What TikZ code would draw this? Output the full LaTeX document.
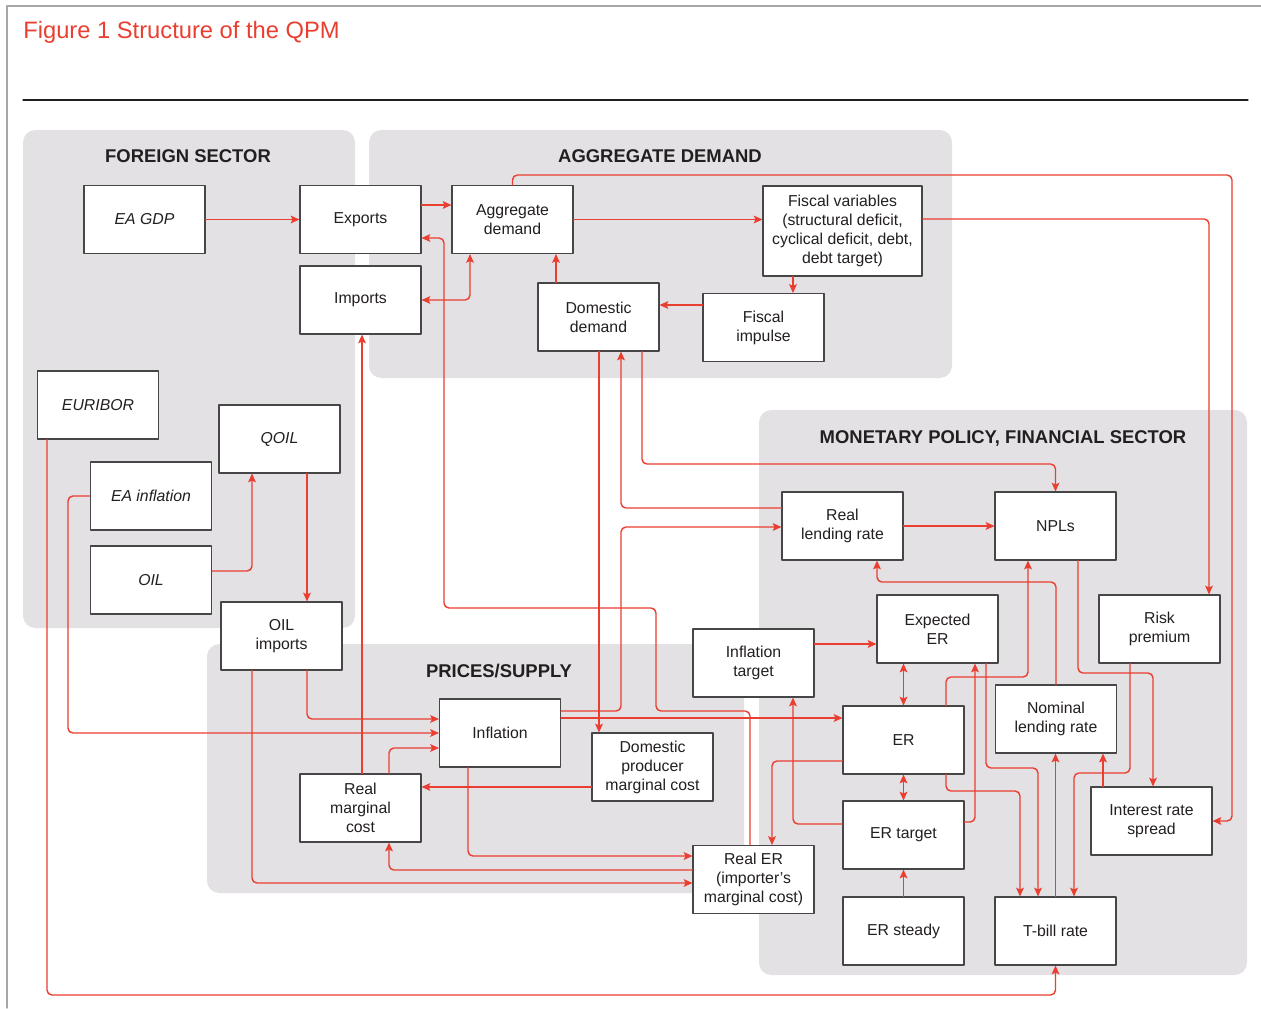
\documentclass[tikz,border=0pt]{standalone}
\usepackage{fontspec}
\setmainfont{Liberation Sans}
\usetikzlibrary{arrows.meta}
\definecolor{qred}{RGB}{234,62,48}
\definecolor{panelgray}{RGB}{227,225,228}
\definecolor{boxline}{RGB}{70,70,70}
\definecolor{inkblack}{RGB}{35,31,32}

\begin{document}
\begin{tikzpicture}[x=0.02cm, y=-0.02cm, line cap=round, line join=round,
    >={Stealth[length=5pt,width=4.4pt,inset=1pt]},
    panel/.style={fill=panelgray, rounded corners=7pt},
    sector/.style={font=\fontsize{10.5}{12}\selectfont\bfseries, text=inkblack},
    var/.style={draw=boxline, line width=0.6pt, fill=white, text=inkblack,
      minimum width=2.42cm, minimum height=1.36cm, inner sep=1pt, align=center,
      font=\fontsize{9}{10.8}\selectfont},
    link/.style={draw=qred, line width=0.8pt, rounded corners=2.8pt}]
  \useasboundingbox (0,0) rectangle (1261,1008);
  % frame, title and rule
  \draw[gray!70, line width=0.8pt] (7,1008) -- (7,6) -- (1261,6);
  \node[anchor=base west, text=qred, font=\fontsize{13.5}{16}\selectfont, inner sep=0] (title) at (23,38) {Figure 1 Structure of the QPM};
  \draw[inkblack, line width=0.6pt] (23,100) -- (1248,100);
  % sector panels
  \fill[panel] (23,130) rectangle (355,628);
  \fill[panel] (369,130) rectangle (952,378);
  \fill[panel] (759,410) rectangle (1247,975);
  \fill[panel] (207,644) rectangle (744,893);
  \node[sector] (fshead) at (188,156) {FOREIGN SECTOR};
  \node[sector] (adhead) at (660,156) {AGGREGATE DEMAND};
  \node[sector] (mphead) at (1003,438) {MONETARY POLICY, FINANCIAL SECTOR};
  \node[sector] (pshead) at (499,671) {PRICES/SUPPLY};

  % foreign sector
  \node[var] (gdp) at (144.5,219.5) {\itshape EA GDP};
  \node[var] (exports) at (360.5,219.5) {Exports};
  \node[var] (imports) at (360.5,300) {Imports};
  \node[var] (euribor) at (98,405) {\itshape EURIBOR};
  \node[var] (qoil) at (279.5,439) {\itshape QOIL};
  \node[var] (eainfl) at (151,496) {\itshape EA inflation};
  \node[var] (oil) at (151,580) {\itshape OIL};
  \node[var] (oilimp) at (281.5,636) {OIL\\imports};
  % aggregate demand
  \node[var] (aggdem) at (512.5,219.5) {Aggregate\\demand};
  \node[var, minimum width=3.18cm, minimum height=1.8cm] (fiscvar) at (842.5,231) {Fiscal variables\\(structural deficit,\\cyclical deficit, debt,\\debt target)};
  \node[var] (domdem) at (598.5,317) {Domestic\\demand};
  \node[var] (fiscimp) at (763.5,327.5) {Fiscal\\impulse};
  % monetary policy, financial sector
  \node[var] (rlr) at (842.5,526) {Real\\lending rate};
  \node[var] (npl) at (1055.5,526) {NPLs};
  \node[var] (experr) at (937.5,629) {Expected\\ER};
  \node[var] (riskp) at (1159.5,629) {Risk\\premium};
  \node[var] (inftarget) at (753.5,663) {Inflation\\target};
  \node[var] (er) at (903.5,740) {ER};
  \node[var] (nlr) at (1056,719) {Nominal\\lending rate};
  \node[var] (ertarget) at (903.5,835) {ER target};
  \node[var] (spread) at (1151.5,821) {Interest rate\\spread};
  \node[var] (ersteady) at (903.5,931) {ER steady};
  \node[var] (tbill) at (1055.5,931) {T-bill rate};
  % prices/supply
  \node[var] (infl) at (500,733) {Inflation};
  \node[var] (dpmc) at (652.5,767) {Domestic\\producer\\marginal cost};
  \node[var] (rmc) at (360.5,808) {Real\\marginal\\cost};
  \node[var] (rer) at (753.5,879.5) {Real ER\\(importer’s\\marginal cost)};

  % foreign sector links
  \draw[link, ->] (gdp.east) -- (exports.west);
  \draw[link, ->] (exports.east |- 0,205) -- (aggdem.west |- 0,205);
  \draw[link, <->] (imports.east) -| (aggdem.south -| 470,0);
  \draw[link, ->] (oil.east |- 0,571) -| (qoil.south -| 252,0);
  \draw[link, ->] (qoil.south -| 307,0) -- (oilimp.north -| 307,0);
  \draw[link, ->] (euribor.south -| 47,0) -- (47,995) -| (tbill.south);
  \draw[link, ->] (eainfl.west) -| (68,733) -- (infl.west);
  \draw[link, ->] (oilimp.south -| 307,0) |- (infl.west |- 0,719);
  \draw[link, ->] (oilimp.south -| 252,0) |- (rer.west |- 0,883);
  % aggregate demand links
  \draw[link, ->] (aggdem.east) -- (fiscvar.west |- aggdem.east);
  \draw[link, ->] (aggdem.north) |- (1232,175) |- (spread.east);
  \draw[link, ->] (fiscvar.east |- 0,219) -| (riskp.north -| 1209,0);
  \draw[link, ->] (fiscvar.south -| 793,0) -- (fiscimp.north -| 793,0);
  \draw[link, ->] (fiscimp.west |- 0,305) -- (domdem.east |- 0,305);
  \draw[link, ->] (domdem.north -| 556,0) -- (aggdem.south -| 556,0);
  \draw[link, ->] (domdem.south -| 599,0) -- (dpmc.north -| 599,0);
  \draw[link, ->] (domdem.south -| 642,0) -- (642,464) -| (npl.north);
  \draw[link, ->] (rlr.west |- 0,508) -| (domdem.south -| 621,0);
  \draw[link, ->] (rer.north -| 750,0) -- (750,711) -- (656,711) -- (656,608) -- (444,608) -- (444,238) -- (exports.east |- 0,238);
  % prices/supply links
  \draw[link, ->] (rmc.north -| 362,0) -- (imports.south -| 362,0);
  \draw[link, ->] (rmc.north -| 389,0) |- (infl.west |- 0,748);
  \draw[link, ->] (dpmc.west |- 0,787) -- (rmc.east |- 0,787);
  \draw[link, ->] (infl.south -| 468,0) |- (rer.west |- 0,856);
  \draw[link, ->] (rer.west |- 0,870) -| (rmc.south -| 389,0);
  \draw[link, ->] (infl.east |- 0,711) -| (621,527) -- (rlr.west |- 0,527);
  \draw[link, ->] (infl.east |- 0,718) -- (er.west |- 0,718);
  % monetary policy links
  \draw[link, ->] (rlr.east) -- (npl.west);
  \draw[link, ->] (inftarget.east |- 0,644) -- (experr.west |- 0,644);
  \draw[link, <->] (experr.south -| er.north) -- (er.north);
  \draw[link, <->] (er.south) -- (ertarget.north);
  \draw[link, ->] (ersteady.north) -- (ertarget.south);
  \draw[link, ->] (nlr.north) |- (877,582) -- (rlr.south -| 877,0);
  \draw[link, ->] (er.north -| 946,0) -- (946,677) -| (npl.south -| 1028,0);
  \draw[link, ->] (npl.south -| 1078,0) -- (1078,673) -| (spread.north -| 1153,0);
  \draw[link, ->] (riskp.south -| 1130,0) -- (1130,773) -| (tbill.north -| 1074,0);
  \draw[link, ->] (spread.north -| 1103,0) -- (nlr.south -| 1103,0);
  \draw[link, ->] (tbill.north) -- (nlr.south -| tbill.north);
  \draw[link, ->] (er.south -| 946,0) -- (946,791) -| (tbill.north -| 1020,0);
  \draw[link, ->] (experr.south -| 986,0) -- (986,768) -| (tbill.north -| 1038,0);
  \draw[link, ->] (ertarget.east |- 0,822) -| (experr.south -| 975,0);
  \draw[link, ->] (er.west |- 0,761) -| (rer.north -| 772,0);
  \draw[link, ->] (ertarget.west |- 0,824) -| (inftarget.south -| 793,0);
\end{tikzpicture}
\end{document}
